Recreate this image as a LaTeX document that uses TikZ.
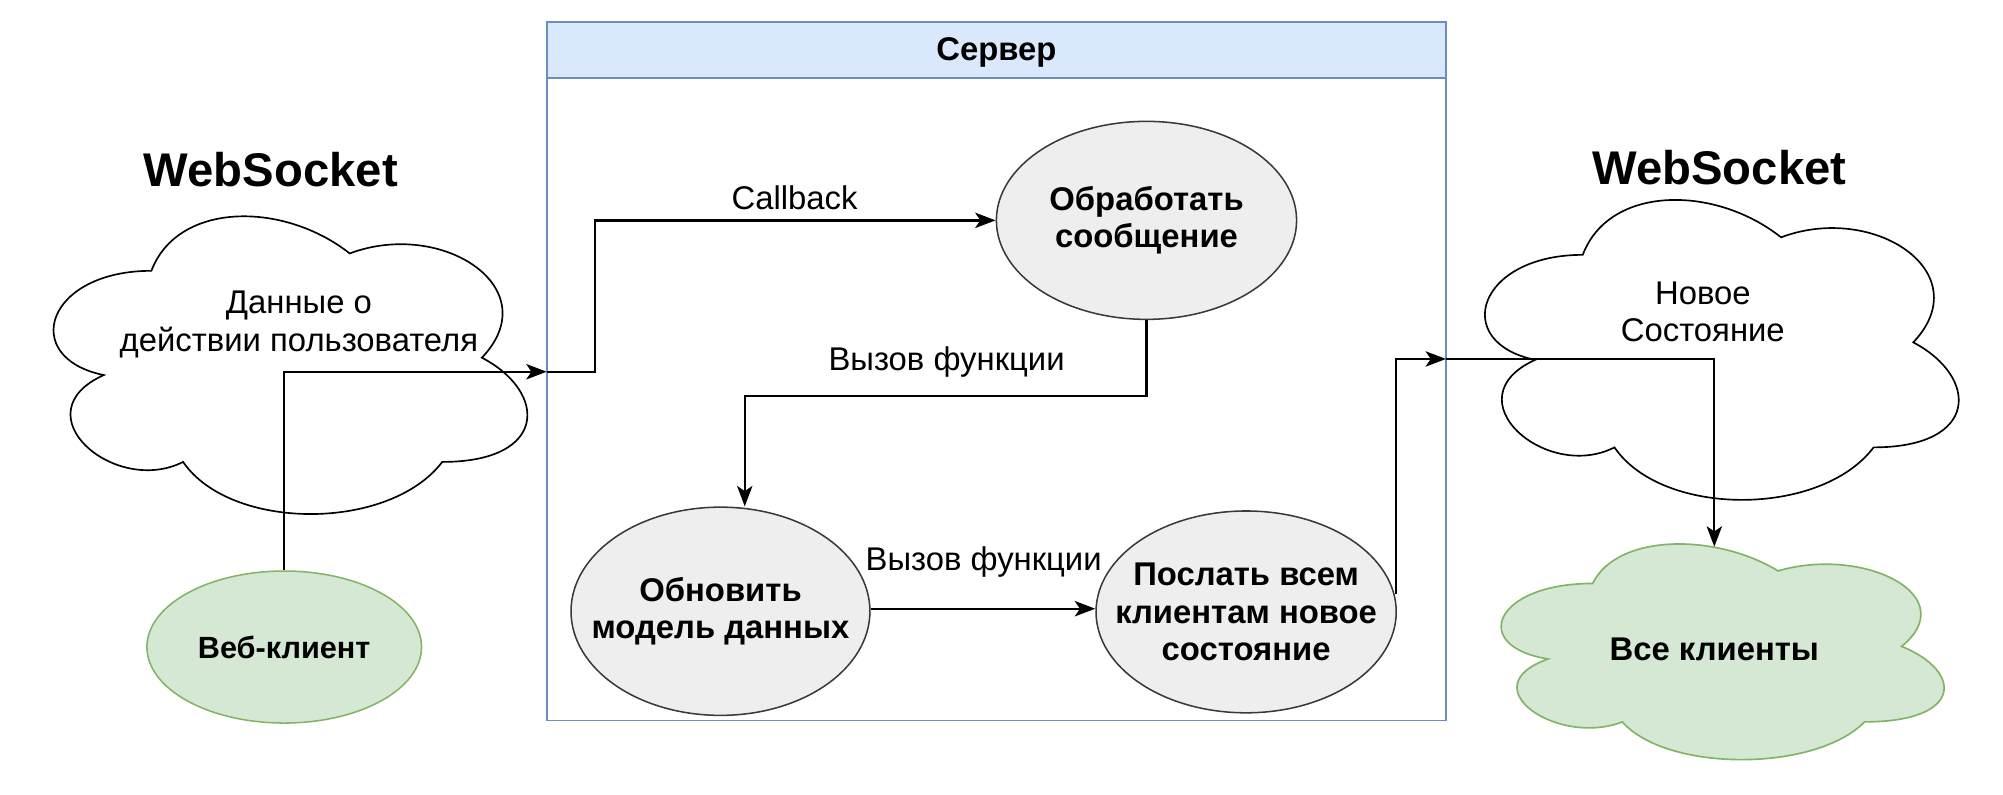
\documentclass[tikz,border=0pt]{standalone}
\usepackage{fontspec}
\setmainfont{Liberation Sans}
\usetikzlibrary{shapes.geometric,arrows.meta,calc}
\definecolor{greenfill}{HTML}{D5E8D4}
\definecolor{greenline}{HTML}{82B366}
\definecolor{grayfill}{HTML}{EEEEEE}
\definecolor{grayline}{HTML}{36393D}
\definecolor{bluefill}{HTML}{DAE8FC}
\definecolor{blueline}{HTML}{6C8EBF}
\newcommand\drawcloud[5]{%
\path[#5] ({#1+0.25*#3},{#2+0.25*#4})
 .. controls ({#1+0.05*#3},{#2+0.25*#4}) and ({#1},{#2+0.5*#4}) .. ({#1+0.16*#3},{#2+0.55*#4})
 .. controls ({#1},{#2+0.66*#4}) and ({#1+0.18*#3},{#2+0.9*#4}) .. ({#1+0.31*#3},{#2+0.8*#4})
 .. controls ({#1+0.4*#3},{#2+#4}) and ({#1+0.7*#3},{#2+#4}) .. ({#1+0.8*#3},{#2+0.8*#4})
 .. controls ({#1+#3},{#2+0.8*#4}) and ({#1+#3},{#2+0.6*#4}) .. ({#1+0.875*#3},{#2+0.5*#4})
 .. controls ({#1+#3},{#2+0.3*#4}) and ({#1+0.8*#3},{#2+0.1*#4}) .. ({#1+0.625*#3},{#2+0.2*#4})
 .. controls ({#1+0.5*#3},{#2+0.05*#4}) and ({#1+0.3*#3},{#2+0.05*#4}) .. ({#1+0.25*#3},{#2+0.25*#4}) -- cycle;
}
\tikzset{
  boldtxt/.style={font=\fontsize{25.7}{29}\selectfont\bfseries, align=center},
  boldsmall/.style={font=\fontsize{24}{29}\selectfont\bfseries, align=center},
  plain/.style={font=\fontsize{25.7}{29}\selectfont, align=center},
  title/.style={font=\fontsize{37}{44}\selectfont\bfseries},
  grayell/.style={ellipse, draw=grayline, fill=grayfill, line width=1.2pt, inner sep=0pt},
  greenell/.style={ellipse, draw=greenline, fill=greenfill, line width=1.2pt, inner sep=0pt},
  conn/.style={line width=1.8pt, -{Stealth[length=16pt,width=12pt,inset=4pt]}},
  cloudwhite/.style={draw=black, fill=white, line width=1.3pt},
  cloudgreen/.style={draw=greenline, fill=greenfill, line width=1.3pt},
  srvline/.style={draw=blueline, line width=1.5pt},
}
\begin{document}
\begin{tikzpicture}[x=1pt,y=-1pt]
\useasboundingbox (0,0) rectangle (1568,622);
% server box
\path[srvline, fill=white] (428,17) rectangle (1132,564);
\path[srvline, fill=bluefill] (428,17) rectangle (1132,61);
\node[boldtxt] (srvtitle) at (780,41) {Сервер};
% clouds
\drawcloud{15}{144}{414}{272}{cloudwhite}
\drawcloud{1135.5}{131}{414}{274}{cloudwhite}
\drawcloud{1150}{407.5}{387}{197}{cloudgreen}
\node[plain] (data) at (234,254) {Данные о\\действии пользователя};
\node[plain] (newst) at (1333,244) {Новое\\Состояние};
\node[boldtxt] (allc) at (1342,508) {Все клиенты};
\coordinate (allctop) at (1342,428);
% titles
\node[title] (ws1) at (212,133) {WebSocket};
\node[title] (ws2) at (1346,131) {WebSocket};
% ellipses
\node[greenell, minimum width=215pt, minimum height=119pt,
  label={[boldsmall]center:Веб-клиент}] (web) at (222.5,506.5) {};
\node[grayell, minimum width=235pt, minimum height=155pt,
  label={[boldtxt]center:Обработать\\сообщение}] (proc) at (897.5,172.5) {};
\node[grayell, minimum width=234pt, minimum height=163pt,
  label={[boldtxt]center:Обновить\\модель данных}] (upd) at (564,478.5) {};
\node[grayell, minimum width=235pt, minimum height=158pt,
  label={[boldtxt]center:Послать всем\\клиентам новое\\состояние}] (send) at (975.5,479) {};
% coordinates
\coordinate (srvin) at (428,291);
\coordinate (b1) at (466,291);
\coordinate (b2) at (583,310);
\coordinate (srvout) at (1132,281);
% connectors
\draw[conn] (web.north) |- (srvin);
\draw[conn] (srvin) -- (b1) |- (proc.west);
\draw[conn] (proc.south) |- (b2) -- (b2 |- upd.north);
\draw[conn] ($(upd.east)+(0,-2)$) -- ($(upd.east -| send.west)+(0,-2)$);
\draw[conn] ($(send.east)+(-1,-14)$) |- (srvout);
\draw[conn] (srvout) -| (allctop);
% labels
\node[plain] (lcb) at (622,155) {Callback};
\node[plain] (lf1) at (741,283) {Вызов функции};
\node[plain] (lf2) at (770,440) {Вызов функции};
\end{tikzpicture}
\end{document}
